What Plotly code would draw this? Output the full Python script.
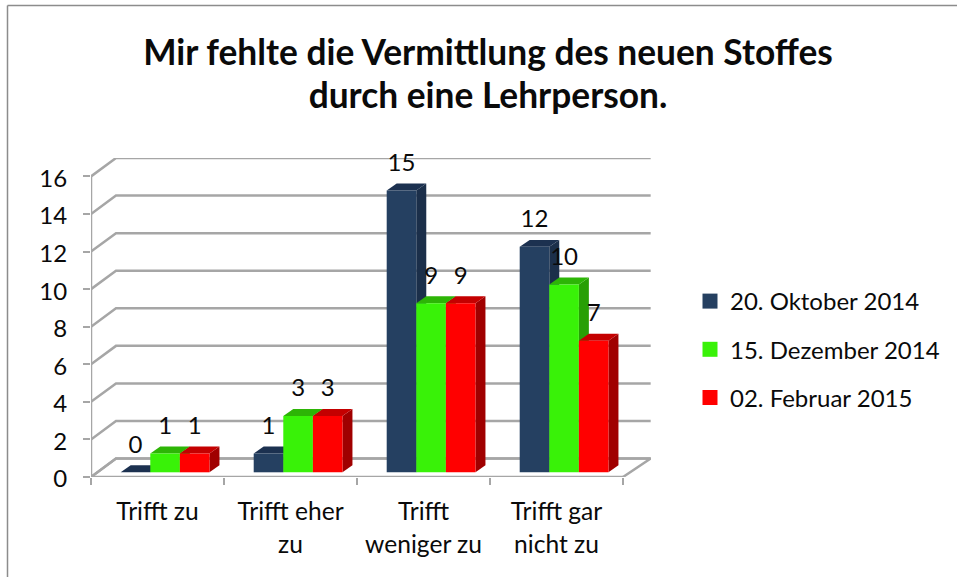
import plotly.graph_objects as go

W, H = 957, 577
categories = ["Trifft zu", "Trifft eher<br>zu", "Trifft<br>weniger zu", "Trifft gar<br>nicht zu"]
series_names = ["20. Oktober 2014", "15. Dezember 2014", "02. Februar 2015"]
oktober = [0, 1, 15, 12]
dezember = [1, 3, 9, 10]
februar = [1, 3, 9, 7]
y_ticks = [0, 2, 4, 6, 8, 10, 12, 14, 16]

front_colors = ["#254061", "#39F208", "#FF0000"]
top_colors = ["#1C3150", "#2DB506", "#C40000"]
side_colors = ["#1B2F4A", "#289F05", "#A00000"]
GRID = "#A6A6A6"
FONT = "Lato, Carlito, Calibri, sans-serif"
TEXT = "#0A0A0A"
TICK_PX = 24
CAT_PX = 24.6
TITLE_PX = 35.3
GRID_W = 2.5

# geometry in data units
WALL_L, WALL_R, WALL_Y = 0.188, 0.208, 0.98
BAR_W, BAR_X0, BAR_BASE = 0.2225, 0.2233, 0.25
DEPTH_X, DEPTH_Y = 0.075, 0.37
x_range = [0, 4.2105]
y_range = [0, 16.98]

fig = go.Figure()

# floor and back wall
fig.add_trace(go.Scatter(
    x=[0, WALL_L, 4 + WALL_R, 4], y=[0, WALL_Y, WALL_Y, 0], mode="lines",
    line=dict(color=GRID, width=GRID_W), showlegend=False, hoverinfo="skip"))
for t in y_ticks:
    fig.add_trace(go.Scatter(
        x=[0, WALL_L, 4 + WALL_R], y=[t, t + WALL_Y, t + WALL_Y], mode="lines",
        line=dict(color=GRID, width=GRID_W), showlegend=False, hoverinfo="skip"))
# front axis lines
fig.add_trace(go.Scatter(
    x=[0, 0, 4], y=[y_ticks[-1], 0, 0], mode="lines", cliponaxis=False,
    line=dict(color=GRID, width=GRID_W), showlegend=False, hoverinfo="skip"))

values = [oktober, dezember, februar]
for s, vals in enumerate(values):
    for i, v in enumerate(vals):
        x0 = i + BAR_X0 + s * BAR_W
        x1 = x0 + BAR_W
        y0, y1 = BAR_BASE, BAR_BASE + v
        fig.add_trace(go.Scatter(
            x=[x1, x1 + DEPTH_X, x1 + DEPTH_X, x1, x1],
            y=[y0, y0 + DEPTH_Y, y1 + DEPTH_Y, y1, y0],
            mode="lines", fill="toself", fillcolor=side_colors[s],
            line=dict(width=0, color=side_colors[s]), showlegend=False, hoverinfo="skip"))
        fig.add_trace(go.Scatter(
            x=[x0, x0 + DEPTH_X, x1 + DEPTH_X, x1, x0],
            y=[y1, y1 + DEPTH_Y, y1 + DEPTH_Y, y1, y1],
            mode="lines", fill="toself", fillcolor=top_colors[s],
            line=dict(width=0, color=top_colors[s]), showlegend=False, hoverinfo="skip"))

for s, vals in enumerate(values):
    xs = [i + BAR_X0 + (s + 0.5) * BAR_W for i in range(4)]
    fig.add_trace(go.Bar(
        x=xs, y=vals, base=BAR_BASE, width=BAR_W, name=series_names[s],
        marker=dict(color=front_colors[s], line=dict(width=0)),
        xaxis="x2", yaxis="y2", showlegend=False, legendgroup=series_names[s]))
    # legend swatch
    fig.add_trace(go.Scatter(
        x=[None], y=[None], mode="markers", name=series_names[s],
        marker=dict(symbol="square", size=15, color=front_colors[s]),
        legendgroup=series_names[s], xaxis="x2", yaxis="y2"))

for s, vals in enumerate(values):
    xs = [i + BAR_X0 + (s + 0.5) * BAR_W for i in range(4)]
    fig.add_trace(go.Scatter(
        x=xs, y=[v + BAR_BASE + 1.36 for v in vals], mode="text",
        text=[str(v) for v in vals], textposition="middle center",
        textfont=dict(family=FONT, size=TICK_PX, color=TEXT),
        xaxis="x2", yaxis="y2", showlegend=False, hoverinfo="skip", cliponaxis=False))

dom_x = [91 / W, 651 / W]
dom_y = [(H - 477) / H, (H - 158) / H]
fig.update_layout(
    width=W, height=H, margin=dict(l=0, r=0, t=0, b=0),
    paper_bgcolor="white", plot_bgcolor="white", barmode="overlay",
    font=dict(family=FONT, color=TEXT),
    title=dict(
        text=f'<span style="font-size:{TITLE_PX}px">Mir fehlte die Vermittlung des neuen Stoffes<br>durch eine Lehrperson.</span>',
        x=488 / W, xanchor="center", y=1 - 65 / H, yanchor="top", automargin=False,
        font=dict(family=FONT, size=33, color=TEXT, weight="bold")),
    xaxis=dict(
        domain=dom_x, range=x_range, tickmode="array", automargin=False,
        tickvals=[0.5, 1.5, 2.5, 3.5],
        ticktext=[f'<span style="font-size:{CAT_PX}px">{c}</span>' for c in categories],
        ticks="", tickfont=dict(family=FONT, size=25.4, color=TEXT), tickangle=0,
        showgrid=False, zeroline=False, showline=False, fixedrange=True,
        minor=dict(tickmode="array", tickvals=[0, 1, 2, 3, 4], ticks="outside",
                   ticklen=7, tickwidth=2, tickcolor=GRID, showgrid=False),
        ticklabelstandoff=17),
    yaxis=dict(
        domain=dom_y, range=y_range, tickmode="array", tickvals=y_ticks, automargin=False,
        ticks="outside", ticklen=7, tickwidth=2, tickcolor=GRID,
        tickfont=dict(family=FONT, size=TICK_PX, color=TEXT),
        showgrid=False, zeroline=False, showline=False,
        fixedrange=True, ticklabelstandoff=11, ticklabelshift=2),
    xaxis2=dict(domain=dom_x, range=x_range, overlaying="x", visible=False, fixedrange=True),
    yaxis2=dict(domain=dom_y, range=y_range, overlaying="y", visible=False, fixedrange=True),
    legend=dict(
        x=690 / W, xanchor="left", y=1 - 279 / H, yanchor="top", tracegroupgap=14,
        font=dict(family=FONT, size=TICK_PX, color=TEXT), bgcolor="rgba(0,0,0,0)", borderwidth=0),
    shapes=[
        dict(type="line", xref="paper", yref="paper", x0=7.5 / W, x1=1, y0=1 - 5.5 / H, y1=1 - 5.5 / H,
             line=dict(color="#8C8C8C", width=1.5)),
        dict(type="line", xref="paper", yref="paper", x0=7.5 / W, x1=7.5 / W, y0=1 - 5.5 / H, y1=0,
             line=dict(color="#8C8C8C", width=1.5)),
    ],
)

fig.write_html("out.html", config={"displayModeBar": False},
               post_script="document.body.style.margin='0';document.body.style.overflow='hidden';")
